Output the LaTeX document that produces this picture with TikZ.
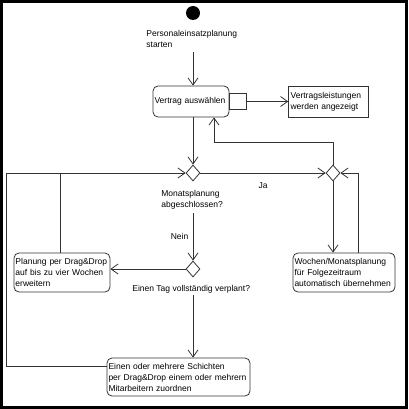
\documentclass[tikz,border=0pt]{standalone}
\usepackage{fontspec}
\setmainfont{Liberation Sans}
\usetikzlibrary{positioning,calc}
\usetikzlibrary{shapes.geometric, arrows.meta}
\tikzset{
  act/.style={rectangle, rounded corners=5pt, draw=black!80, align=left, inner xsep=1.5pt, inner ysep=1pt},
  obj/.style={rectangle, draw=black!80, align=left, inner xsep=2pt, inner ysep=1pt},
  pinbox/.style={rectangle, draw=black!80, minimum width=17pt, minimum height=16pt, inner sep=0pt},
  dec/.style={diamond, draw=black!80, fill=white, minimum width=14pt, minimum height=16pt, inner sep=0pt},
  startdot/.style={circle, fill=black, minimum size=14pt, inner sep=0pt},
  lbl/.style={align=left, inner sep=1pt},
  arr/.style={draw=black!80, -{Straight Barb[length=7pt,width=10pt]}},
  ln/.style={draw=black!80},
  node distance=4mm
}

\begin{document}
\begin{tikzpicture}[x=1pt, y=-1pt, line width=0.8pt, font=\fontsize{8.5}{11}\selectfont]
	\useasboundingbox (0,0) rectangle (408,409);
	\draw[line width=3pt] (1.5,1.5) rectangle (406.5,407.5);

	\node[startdot] (start) at (193,13) {};
	\node[lbl, anchor=north west] (starttxt) at (145,29.3) {Personaleinsatzplanung\\starten};

	\node[act, text width=73pt, minimum height=31pt] (vertrag) at (191,101.5) {Vertrag auswählen};
	\node[pinbox, right=0pt of vertrag] (pin) {};
	\node[obj, text width=76pt, minimum height=31pt, right=41pt of pin] (leist) {Vertragsleistungen\\werden angezeigt};

	\node[dec] (d1) at (193,173) {};
	\node[dec] (d2) at (333,173) {};
	\node[lbl, anchor=north west] (monat) at (160,189.3) {Monatsplanung\\abgeschlossen?};

	\node[dec] (d3) at (193,269) {};
	\node[lbl, anchor=north west] (tag) at (131,284.3) {Einen Tag vollständig verplant?};

	\node[act, text width=93pt, minimum height=39pt] (planung) at (62,272.5) {Planung per Drag\&Drop\\auf bis zu vier Wochen\\erweitern};
	\node[act, text width=99pt, minimum height=39pt] (wochen) at (344,272.5) {Wochen/Monatsplanung\\für Folgezeitraum\\automatisch übernehmen};
	\node[act, text width=140pt, minimum height=38pt] (einen) at (178.5,377) {Einen oder mehrere Schichten\\per Drag\&Drop einem oder mehrern\\Mitarbeitern zuordnen};

	\coordinate (s1) at (193,52);
	\coordinate (back) at (214,142);
	\coordinate (n1) at (193,213);
	\coordinate (n2) at (193,295);
	\coordinate (corner) at (6,173);
	%
	\draw[arr] (s1) -- (s1 |- vertrag.north);
	\draw[arr] (pin) -- (leist);
	\draw[arr] (vertrag.south -| d1) -- (d1.north);
	\draw[arr] (d1) -- node[below=6pt] {Ja} (d2);
	\draw[arr] (d2.north) |- (back) -- (back |- vertrag.south);
	\draw[arr] ([xshift=14pt]wochen.north) |- (d2.east);
	\draw[arr] (d2.south) -- (d2 |- wochen.north);

	\draw[arr] (n1) -- node[left=1pt] {Nein} (d3.north);
	\draw[arr] (d3.west) -- (d3.west -| planung.east);
	\draw[ln] ([xshift=-2pt]planung.north) -- ([xshift=-2pt]planung.north |- d1.west);
	\draw[arr] (n2) -- (n2 |- einen.north);

	\draw[arr] ([yshift=11pt]einen.west) -| (corner) -- (d1.west);
\end{tikzpicture}
\end{document}
